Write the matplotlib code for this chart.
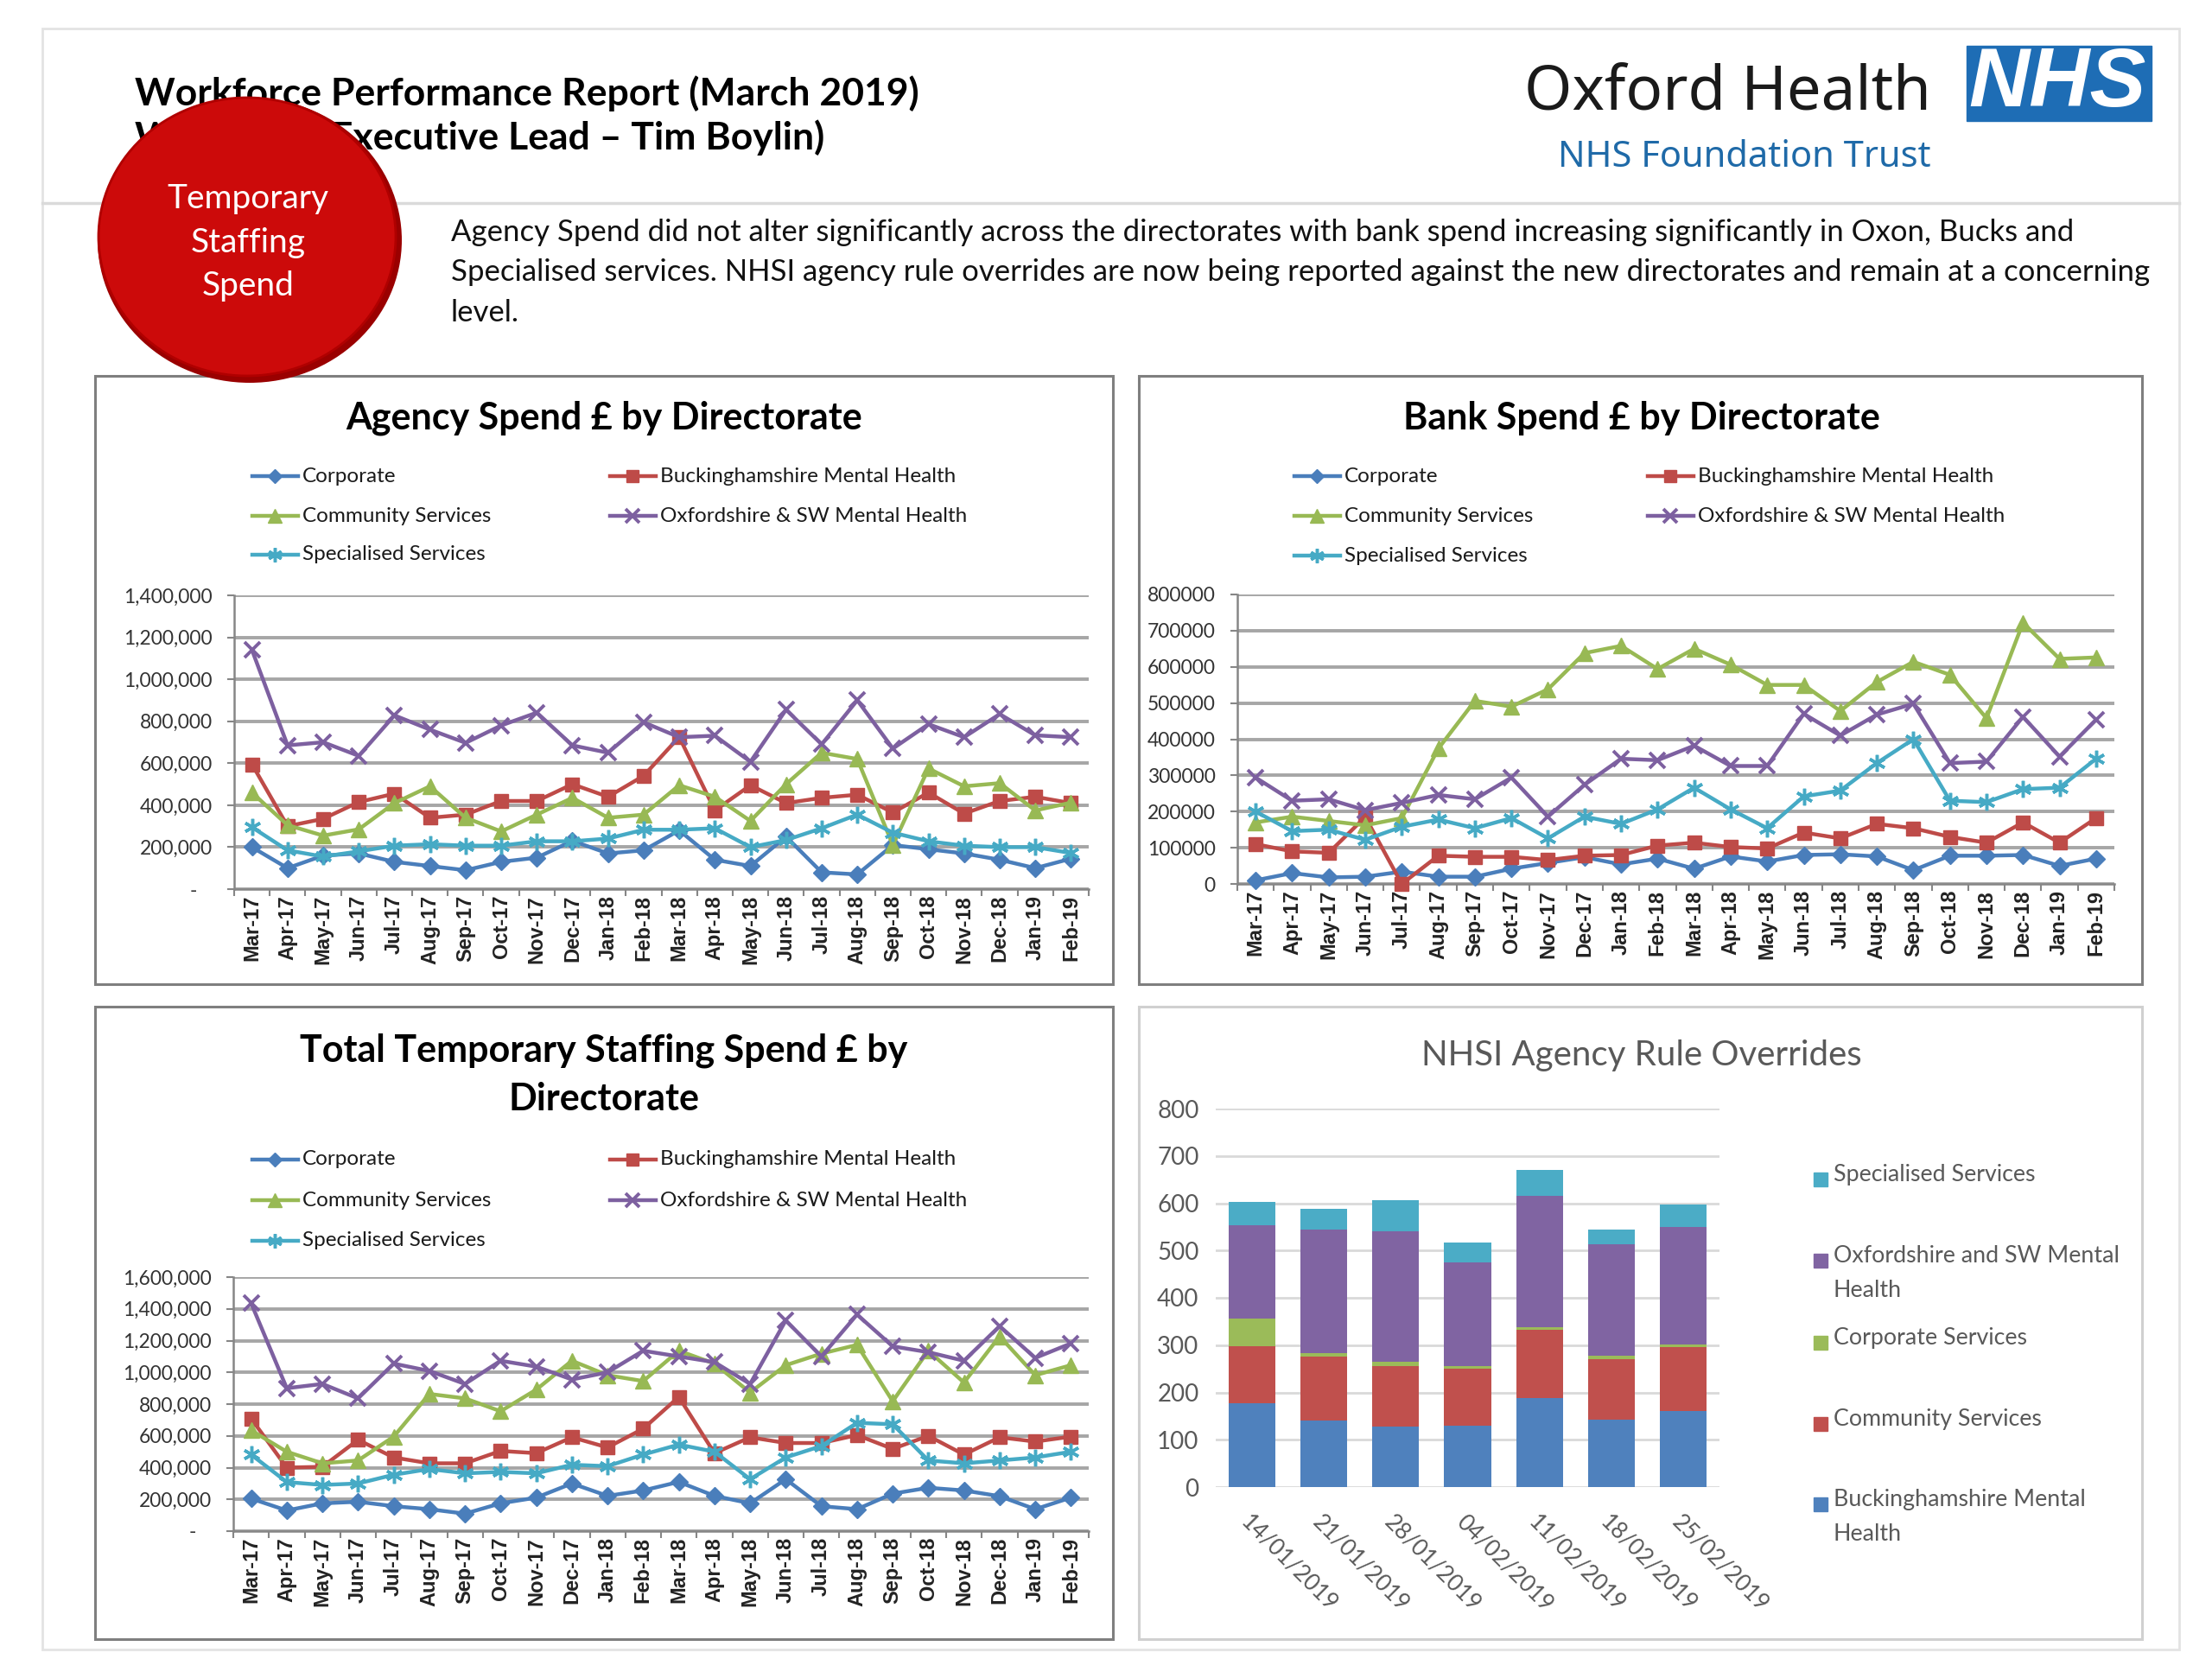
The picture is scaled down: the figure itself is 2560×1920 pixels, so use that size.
import matplotlib
matplotlib.use("Agg")
import matplotlib.pyplot as plt
import numpy as np
from matplotlib.patches import Rectangle, Ellipse
from matplotlib.ticker import FuncFormatter

plt.rcParams['font.family'] = ['Lato', 'DejaVu Sans']

# ---- data ----
months = ['Mar-17', 'Apr-17', 'May-17', 'Jun-17', 'Jul-17', 'Aug-17', 'Sep-17', 'Oct-17',
          'Nov-17', 'Dec-17', 'Jan-18', 'Feb-18', 'Mar-18', 'Apr-18', 'May-18', 'Jun-18',
          'Jul-18', 'Aug-18', 'Sep-18', 'Oct-18', 'Nov-18', 'Dec-18', 'Jan-19', 'Feb-19']

agency_corporate = [200000, 100000, 160000, 170000, 130000, 110000, 90000, 130000, 150000, 230000,
                    170000, 185000, 280000, 140000, 110000, 250000, 80000, 70000, 210000, 190000,
                    170000, 140000, 100000, 145000]
agency_bucks = [595000, 300000, 335000, 415000, 455000, 340000, 355000, 420000, 420000, 500000,
                440000, 540000, 725000, 375000, 495000, 410000, 435000, 450000, 365000, 460000,
                360000, 420000, 440000, 410000]
agency_community = [460000, 305000, 255000, 285000, 410000, 490000, 340000, 275000, 355000, 435000,
                    340000, 355000, 495000, 440000, 325000, 500000, 650000, 620000, 210000, 575000,
                    490000, 505000, 375000, 412000]
agency_oxford = [1140000, 685000, 700000, 635000, 828000, 760000, 697000, 780000, 841000, 685000,
                 650000, 795000, 724000, 731000, 607000, 855000, 690000, 900000, 670000, 786000,
                 724000, 834000, 733000, 724000]
agency_specialised = [295000, 185000, 155000, 180000, 207000, 214000, 207000, 207000, 228000, 228000,
                      241000, 283000, 283000, 290000, 200000, 234000, 290000, 355000, 269000, 228000,
                      207000, 200000, 200000, 172000]

bank_corporate = [10000, 30000, 18000, 20000, 34000, 20000, 20000, 42000, 58000, 74000,
                  54000, 70000, 42000, 76000, 62000, 80000, 82000, 76000, 38000, 78000,
                  78000, 80000, 50000, 70000]
bank_bucks = [110000, 90000, 86000, 185000, 0, 78000, 75000, 75000, 66000, 78000,
              80000, 106000, 114000, 102000, 98000, 142000, 126000, 166000, 154000, 130000,
              114000, 170000, 114000, 182000]
bank_community = [170000, 186000, 174000, 162000, 182000, 374000, 506000, 490000, 538000, 638000,
                  658000, 594000, 650000, 606000, 550000, 550000, 478000, 558000, 614000, 578000,
                  458000, 722000, 622000, 626000]
bank_oxford = [294000, 230000, 234000, 204000, 224000, 246000, 234000, 294000, 186000, 274000,
               346000, 342000, 382000, 326000, 326000, 470000, 410000, 468000, 498000, 334000,
               338000, 462000, 352000, 454000]
bank_specialised = [200000, 146000, 150000, 122000, 158000, 178000, 154000, 182000, 126000, 186000,
                    166000, 206000, 266000, 206000, 154000, 242000, 258000, 334000, 400000, 230000,
                    226000, 262000, 266000, 346000]

total_corporate = [205000, 130000, 175000, 185000, 157000, 138000, 110000, 175000, 211000, 300000,
                   222000, 256000, 310000, 222000, 175000, 327000, 157000, 138000, 236000, 273000,
                   256000, 220000, 138000, 211000]
total_bucks = [709000, 400000, 405000, 575000, 464000, 427000, 427000, 505000, 491000, 591000,
               527000, 645000, 845000, 491000, 591000, 555000, 555000, 605000, 518000, 600000,
               482000, 591000, 564000, 595000]
total_community = [635000, 500000, 427000, 445000, 595000, 864000, 836000, 755000, 891000, 1073000,
                   982000, 945000, 1136000, 1055000, 873000, 1045000, 1118000, 1173000, 818000, 1136000,
                   936000, 1227000, 982000, 1045000]
total_oxford = [1436000, 900000, 927000, 836000, 1055000, 1009000, 927000, 1073000, 1036000, 955000,
                1000000, 1136000, 1100000, 1064000, 927000, 1327000, 1100000, 1364000, 1164000, 1127000,
                1073000, 1291000, 1091000, 1182000]
total_specialised = [482000, 309000, 291000, 300000, 355000, 391000, 364000, 373000, 364000, 418000,
                     409000, 482000, 545000, 500000, 327000, 464000, 536000, 682000, 673000, 445000,
                     427000, 445000, 464000, 500000]

weeks = ['14/01/2019', '21/01/2019', '28/01/2019', '04/02/2019', '11/02/2019', '18/02/2019', '25/02/2019']
nhsi_bucks = [178, 140, 128, 130, 188, 143, 160]
nhsi_community = [119, 135, 128, 120, 145, 128, 136]
nhsi_corporate = [60, 8, 9, 6, 4, 6, 6]
nhsi_oxford = [196, 262, 275, 218, 279, 237, 247]
nhsi_specialised = [50, 44, 67, 43, 55, 30, 48]

# ---- styles ----
BLUE, RED, GREEN, PURPLE, CYAN = '#4A7EBB', '#BE4B48', '#98B954', '#7D60A0', '#46AAC5'
line_names = ['Corporate', 'Buckinghamshire Mental Health', 'Community Services',
              'Oxfordshire & SW Mental Health', 'Specialised Services']
line_styles = {
    'Corporate': (BLUE, 'D', 10, 1),
    'Buckinghamshire Mental Health': (RED, 's', 12, 1),
    'Community Services': (GREEN, '^', 13, 1),
    'Oxfordshire & SW Mental Health': (PURPLE, 'x', 13, 2.8),
    'Specialised Services': (CYAN, (6, 2, 0), 14, 2.5),
}

W, H = 2560, 1920
fig = plt.figure(figsize=(25.6, 19.2), dpi=100)
bg = fig.add_axes([0, 0, 1, 1])
bg.set_xlim(0, W)
bg.set_ylim(H, 0)
bg.axis('off')


def place(x0, y0, x1, y1):
    return fig.add_axes([x0 / W, 1 - y1 / H, (x1 - x0) / W, (y1 - y0) / H])


# page frame and header
bg.add_patch(Rectangle((49, 33), 2473, 1876, fill=False, ec='#E3E3E3', lw=2))
bg.plot([49, 2522], [235, 235], color='#DADADA', lw=2.5)
bg.text(156, 108, 'Workforce Performance Report (March 2019)', fontsize=32, fontweight='bold',
        va='center', color='black')
bg.text(156, 159, 'Workforce Executive Lead \u2013 Tim Boylin)', fontsize=32, fontweight='bold',
        va='center', color='black')

bg.text(2235, 108, 'Oxford Health', fontsize=51, family='Noto Sans', ha='right', va='center',
        color='#1a1a1a')
bg.text(2235, 182, 'NHS Foundation Trust', fontsize=30, family='Noto Sans', ha='right', va='center',
        color='#1F6AA8')
bg.add_patch(Rectangle((2276, 53), 214, 87, color='#1E6DB5'))
bg.text(2381, 98, 'NHS', fontsize=70, family='Liberation Sans', fontweight='bold', style='italic',
        color='white', ha='center', va='center')

para = ('Agency Spend did not alter significantly across the directorates with bank spend increasing significantly in Oxon, Bucks and\n'
        'Specialised services. NHSI agency rule overrides are now being reported against the new directorates and remain at a concerning\n'
        'level.')
bg.text(522, 253, para, fontsize=25, va='top', linespacing=1.55, color='#111111')

# chart boxes
for x0, y0, x1, y1, ec in [(110, 435, 1288, 1139, '#7F7F7F'), (1318, 435, 2479, 1139, '#7F7F7F'),
                           (110, 1165, 1288, 1897, '#7F7F7F'), (1318, 1165, 2479, 1897, '#D0D0D0')]:
    bg.add_patch(Rectangle((x0, y0), x1 - x0, y1 - y0, fill=False, ec=ec, lw=2.2))

# red badge
bg.add_patch(Ellipse((289, 278), 352, 330, fc='#9A0000', ec='none', zorder=5))
bg.add_patch(Ellipse((286, 274), 344, 322, fc='#CC0A0A', ec='#B00000', lw=2, zorder=6))
for txt, yy in [('Temporary', 230), ('Staffing', 281), ('Spend', 331)]:
    bg.text(287, yy, txt, fontsize=28, color='white', ha='center', va='center', zorder=7)


def money(v, pos):
    return '-   ' if v == 0 else f'{v:,.0f}'


def plain(v, pos):
    return f'{v:.0f}'


def line_chart(ax, series, ymax, step, fmt):
    x = np.arange(len(months))
    for name, vals in zip(line_names, series):
        c, m, ms, mew = line_styles[name]
        ax.plot(x, vals, color=c, lw=3.2, marker=m, ms=ms, mfc=c, mec=c, mew=mew,
                clip_on=False, zorder=3)
    ax.set_xlim(-0.5, len(months) - 0.5)
    ax.set_ylim(0, ymax)
    ax.set_yticks(np.arange(0, ymax + 1, step))
    ax.yaxis.set_major_formatter(FuncFormatter(fmt))
    ax.grid(axis='y', color='#A6A6A6', lw=2.8)
    ax.set_axisbelow(True)
    ax.set_xticks(x)
    ax.set_xticklabels(months, rotation=90, family='Liberation Sans', fontweight='bold',
                       fontsize=17, color='#222222')
    ax.set_xticks(np.arange(-0.5, len(months), 1), minor=True)
    ax.tick_params(axis='x', which='major', length=0, pad=5)
    ax.tick_params(axis='x', which='minor', length=6, width=1.5, color='#868686')
    ax.tick_params(axis='y', length=6, width=1.5, color='#868686', labelsize=16.5,
                   labelcolor='#333333', pad=12)
    for s in ['top', 'right']:
        ax.spines[s].set_visible(False)
    for s in ['left', 'bottom']:
        ax.spines[s].set_color('#868686')
        ax.spines[s].set_linewidth(1.8)
    ax.patch.set_alpha(0)


def line_legend(x1, x2, rows):
    spots = [(x1, rows[0]), (x2, rows[0]), (x1, rows[1]), (x2, rows[1]), (x1, rows[2])]
    for name, (xx, yy) in zip(line_names, spots):
        c, m, ms, mew = line_styles[name]
        bg.plot([xx, xx + 26, xx + 53], [yy] * 3, color=c, lw=3.2, marker=m, markevery=[1],
                ms=ms * 0.85, mfc=c, mec=c, mew=mew)
        bg.text(xx + 58, yy, name, fontsize=17.5, va='center', color='#1a1a1a')


# Agency
bg.text(699, 484, 'Agency Spend \u00a3 by Directorate', fontsize=31, fontweight='bold',
        ha='center', va='center')
line_legend(292, 706, [551, 597, 642])
ax1 = place(271, 689, 1260, 1029)
line_chart(ax1, [agency_corporate, agency_bucks, agency_community, agency_oxford, agency_specialised],
           1400000, 200000, money)

# Bank
bg.text(1900, 484, 'Bank Spend \u00a3 by Directorate', fontsize=31, fontweight='bold',
        ha='center', va='center')
line_legend(1498, 1907, [551, 597, 643])
ax2 = place(1432, 688, 2447, 1023)
line_chart(ax2, [bank_corporate, bank_bucks, bank_community, bank_oxford, bank_specialised],
           800000, 100000, plain)

# Total
bg.text(699, 1216, 'Total Temporary Staffing Spend \u00a3 by', fontsize=31, fontweight='bold',
        ha='center', va='center')
bg.text(699, 1272, 'Directorate', fontsize=31, fontweight='bold', ha='center', va='center')
line_legend(292, 706, [1342, 1389, 1436])
ax3 = place(270, 1478, 1260, 1772)
line_chart(ax3, [total_corporate, total_bucks, total_community, total_oxford, total_specialised],
           1600000, 200000, money)

# NHSI stacked bars
bg.text(1900, 1221, 'NHSI Agency Rule Overrides', fontsize=29, ha='center', va='center',
        color='#595959')
ax4 = place(1407, 1283, 1990, 1721)
bar_names = ['Buckinghamshire Mental\nHealth', 'Community Services', 'Corporate Services',
             'Oxfordshire and SW Mental\nHealth', 'Specialised Services']
bar_colors = ['#4F81BD', '#C0504D', '#9BBB59', '#8064A2', '#4BACC6']
xb = np.arange(len(weeks))
bottom = np.zeros(len(weeks))
for vals, c in zip([nhsi_bucks, nhsi_community, nhsi_corporate, nhsi_oxford, nhsi_specialised], bar_colors):
    ax4.bar(xb, vals, bottom=bottom, width=0.65, color=c, zorder=3)
    bottom += np.array(vals)
ax4.set_xlim(-0.5, len(weeks) - 0.5)
ax4.set_ylim(0, 800)
ax4.set_yticks(np.arange(0, 801, 100))
ax4.grid(axis='y', color='#D9D9D9', lw=2)
ax4.set_axisbelow(True)
for s in ax4.spines.values():
    s.set_visible(False)
ax4.set_xticks(xb)
ax4.set_xticklabels(weeks, rotation=-45, ha='left', va='top', rotation_mode='anchor',
                    fontsize=19, color='#595959')
ax4.tick_params(axis='x', length=0, pad=20)
ax4.tick_params(axis='y', length=0, labelsize=20, labelcolor='#595959', pad=14)
ax4.patch.set_alpha(0)

# NHSI legend (top of stack first)
leg_rows = [1365, 1459, 1554, 1648, 1741]
for name, c, yy in zip(bar_names[::-1], bar_colors[::-1], leg_rows):
    bg.plot([2107], [yy], marker='s', ms=11, color=c)
    bg.text(2122, yy - 18, name, fontsize=19.3, va='top', color='#595959', linespacing=1.75)

fig.savefig('out.png', dpi=100)
